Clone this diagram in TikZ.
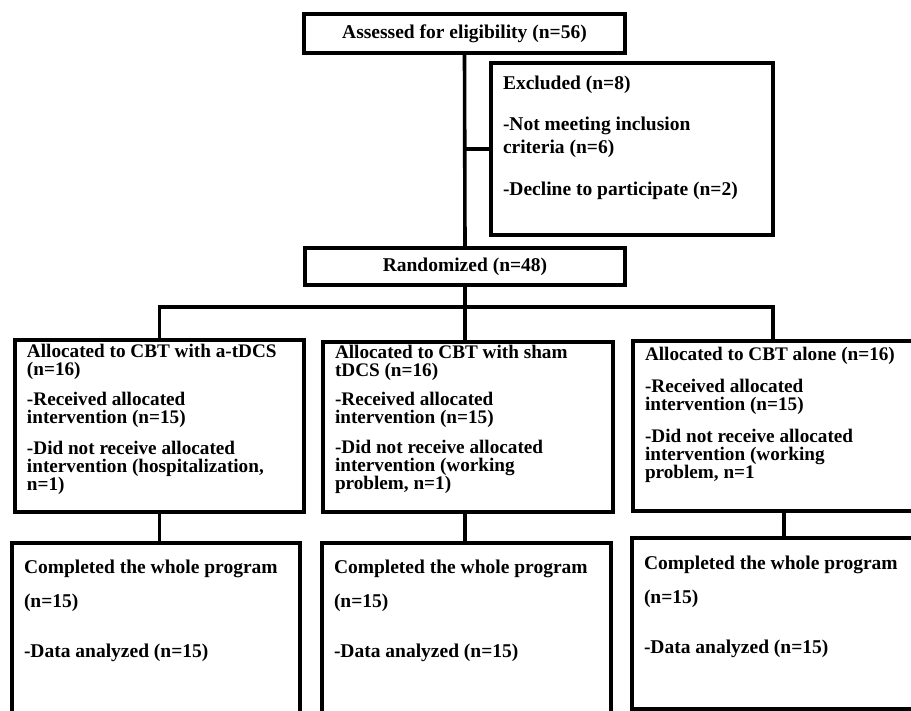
\documentclass[tikz,border=0pt]{standalone}
\usepackage{fontspec}
\setmainfont{Liberation Serif}
\newcommand{\boxtxt}[4]{\parbox[t][#2][t]{#1}{\raggedright\rule{0pt}{#3}#4}}

\begin{document}
\begin{tikzpicture}
        [x=1pt, y=-1pt,
        box/.style={draw, line width=3.6pt, anchor=north west, outer sep=0pt, inner xsep=12pt, inner ysep=3pt, font=\bfseries\fontsize{19.2}{18}\selectfont},
        titlebox/.style={draw, line width=3.6pt, outer sep=0pt, inner sep=0pt, font=\bfseries\fontsize{19.5}{18}\selectfont},
        link/.style={line width=3.6pt}]
        \useasboundingbox (0,0) rectangle (911,711);
        \clip (0,0) rectangle (911,711);

        \node[titlebox, minimum width=321pt, minimum height=39pt] (assess) at (464.5,33.5) {Assessed for eligibility (n=56)};
        \node[box, font=\bfseries\fontsize{19.5}{23}\selectfont] (excl) at (491,63)
            {\boxtxt{258pt}{166pt}{24pt}{Excluded (n=8)\\[18pt] -Not meeting inclusion\\ criteria (n=6)\\[19pt] -Decline to participate (n=2)}};
        \node[titlebox, minimum width=320pt, minimum height=37pt] (rand) at (465,266.5) {Randomized (n=48)};

        \node[box] (a1) at (15,340)
            {\boxtxt{265pt}{166pt}{15pt}{Allocated to CBT with a-tDCS\\ (n=16)\\[12pt] -Received allocated\\ intervention (n=15)\\[13pt] -Did not receive allocated\\ intervention (hospitalization,\\ n=1)}};
        \node[box] (a2) at (323,342)
            {\boxtxt{266pt}{164pt}{14pt}{Allocated to CBT with sham\\ tDCS (n=16)\\[11pt] -Received allocated\\ intervention (n=15)\\[12pt] -Did not receive allocated\\ intervention (working\\ problem, n=1)}};
        \node[box] (a3) at (633,341)
            {\boxtxt{268pt}{164pt}{17pt}{Allocated to CBT alone (n=16)\\[14pt] -Received allocated\\ intervention (n=15)\\[14pt] -Did not receive allocated\\ intervention (working\\ problem, n=1}};

        \node[box, font=\bfseries\fontsize{19.5}{34}\selectfont] (c1) at (12,543)
            {\boxtxt{264pt}{194pt}{27pt}{Completed the whole program\\ (n=15)\\[16pt] -Data analyzed (n=15)}};
        \node[box, font=\bfseries\fontsize{19.5}{34}\selectfont] (c2) at (322,543)
            {\boxtxt{265pt}{194pt}{27pt}{Completed the whole program\\ (n=15)\\[16pt] -Data analyzed (n=15)}};
        \node[box, font=\bfseries\fontsize{19.5}{34}\selectfont] (c3) at (632,538)
            {\boxtxt{268pt}{165pt}{28pt}{Completed the whole program\\ (n=15)\\[16pt] -Data analyzed (n=15)}};

        \coordinate (split) at (465,307);
        \draw[link] (assess.south) -- (rand.north);
        \draw[link] (assess.south |- excl.west) -- (excl.west);
        \draw[link] (rand.south) -- (split);
        \draw[link] (a1.north) -- (a1.north |- split) -- ([xshift=-6pt]a3.north |- split) -- ([xshift=-6pt]a3.north);
        \draw[link] (split) -- (split |- a2.north);
        \draw[link] (a1.south) -- (a1.south |- c1.north);
        \draw[link] (a2.south -| split) -- (split |- c2.north);
        \draw[link] ([xshift=5pt]a3.south) -- ([xshift=5pt]a3.south |- c3.north);
    \end{tikzpicture}
\end{document}
